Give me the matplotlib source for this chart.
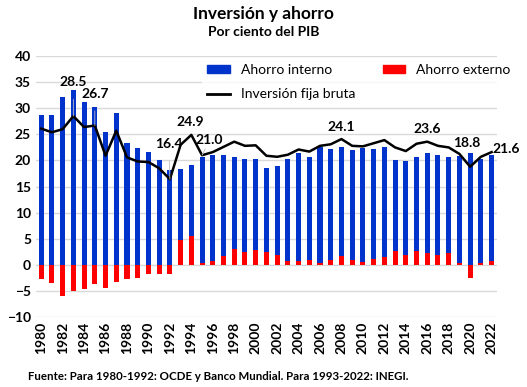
import matplotlib.pyplot as plt
from matplotlib.patches import Patch
from matplotlib.lines import Line2D

plt.rcParams['font.family'] = ['Lato', 'DejaVu Sans']

# Datos
years = list(range(1980, 2023))
ahorro_interno = [28.8, 28.8, 32.2, 33.6, 31.2, 30.3, 25.5, 29.1, 23.4, 22.4,
                  21.6, 20.1, 18.2, 18.4, 19.2, 20.6, 21.1, 21.0, 20.6, 20.2,
                  20.3, 18.6, 18.9, 20.3, 21.4, 20.7, 22.6, 22.2, 22.5, 22.0,
                  22.3, 22.1, 22.6, 20.1, 19.9, 20.7, 21.4, 21.1, 20.7, 20.9,
                  21.4, 20.3, 21.1]
ahorro_externo = [-2.8, -3.5, -6.0, -5.1, -4.7, -3.65, -4.5, -3.3, -2.75, -2.6,
                  -1.8, -1.8, -1.7, 4.7, 5.6, 0.4, 0.7, 1.6, 3.1, 2.4,
                  2.8, 2.4, 1.8, 0.8, 0.7, 1.0, 0.4, 1.0, 1.6, 1.0,
                  0.6, 1.15, 1.5, 2.6, 1.9, 2.7, 2.2, 1.9, 2.2, 0.3,
                  -2.6, 0.4, 0.7]
inversion = [26.1, 25.4, 26.0, 28.5, 26.4, 26.7, 20.9, 25.7, 20.6, 19.8,
             19.7, 18.5, 16.4, 23.0, 24.9, 21.0, 21.6, 22.6, 23.6, 22.8,
             22.9, 20.9, 20.7, 21.1, 22.1, 21.7, 22.8, 23.1, 24.1, 22.8,
             22.7, 23.3, 23.9, 22.5, 21.8, 23.2, 23.6, 22.8, 22.5, 21.25,
             18.8, 20.7, 21.6]

# etiquetas: (año, texto, x texto, y texto, linea guia)
etiquetas = [
    (1983, "28.5", 1983.0, 35.0, True),
    (1985, "26.7", 1985.0, 32.8, True),
    (1992, "16.4", 1991.9, 23.2, True),
    (1994, "24.9", 1993.9, 27.4, False),
    (1995, "21.0", 1995.7, 23.9, True),
    (2008, "24.1", 2008.0, 26.4, False),
    (2016, "23.6", 2016.0, 26.0, False),
    (2020, "18.8", 2019.7, 23.4, False),
    (2022, "21.6", 2023.4, 22.2, False),
]

azul = "#0033CC"
rojo = "#FF0000"

fig = plt.figure(figsize=(5.27, 3.87), dpi=100)
ax = fig.add_axes([0.068, 0.181, 0.875, 0.674])

ax.bar(years, ahorro_interno, width=0.47, color=azul, zorder=2)
ax.bar(years, ahorro_externo, width=0.47, color=rojo, zorder=3)
ax.plot(years, inversion, color="black", lw=1.8, zorder=4)

for yr, txt, tx, ty, guia in etiquetas:
    val = inversion[years.index(yr)]
    if guia:
        ax.annotate(txt, xy=(yr, val), xytext=(tx, ty), ha="center", va="center",
                    fontsize=10, fontweight="bold", zorder=5,
                    arrowprops=dict(arrowstyle="-", color="#BFBFBF", lw=0.6,
                                    shrinkA=6, shrinkB=0))
    else:
        ax.text(tx, ty, txt, ha="center", va="center", fontsize=10,
                fontweight="bold", zorder=5)

ax.set_xlim(1979.5, 2022.5)
ax.set_ylim(-10, 40)
ax.set_yticks(range(-10, 41, 5))
ax.set_xticks(years[::2])
ax.set_xticklabels([str(y) for y in years[::2]], rotation=90)
ax.tick_params(length=0, labelsize=10)
for lab in ax.get_xticklabels() + ax.get_yticklabels():
    lab.set_fontweight("bold")
ax.grid(axis="y", color="#D9D9D9", lw=1, zorder=0)
ax.set_axisbelow(True)
for s in ax.spines.values():
    s.set_visible(False)

handles = [Patch(color=azul, label="Ahorro interno"),
           Line2D([], [], color="black", lw=2, label="Inversión fija bruta"),
           Patch(color=rojo, label="Ahorro externo")]
leg = ax.legend(handles=handles, ncol=2, loc="upper left",
                bbox_to_anchor=(0.36, 0.99), frameon=True, fontsize=10,
                handlelength=1.6, handleheight=0.5, columnspacing=2.0,
                labelspacing=0.85, borderaxespad=0, fancybox=False)
leg.get_frame().set_edgecolor("none")
leg.get_frame().set_facecolor("white")
leg.set_zorder(6)

fig.text(0.5, 0.965, "Inversión y ahorro", ha="center", va="center",
         fontsize=12.5, fontweight="bold")
fig.text(0.5, 0.917, "Por ciento del PIB", ha="center", va="center",
         fontsize=10, fontweight="bold")
fig.text(0.053, 0.028, "Fuente: Para 1980-1992: OCDE y Banco Mundial. Para 1993-2022: INEGI.",
         ha="left", va="center", fontsize=8.3, fontweight="bold")

fig.savefig("out.png", dpi=100)
